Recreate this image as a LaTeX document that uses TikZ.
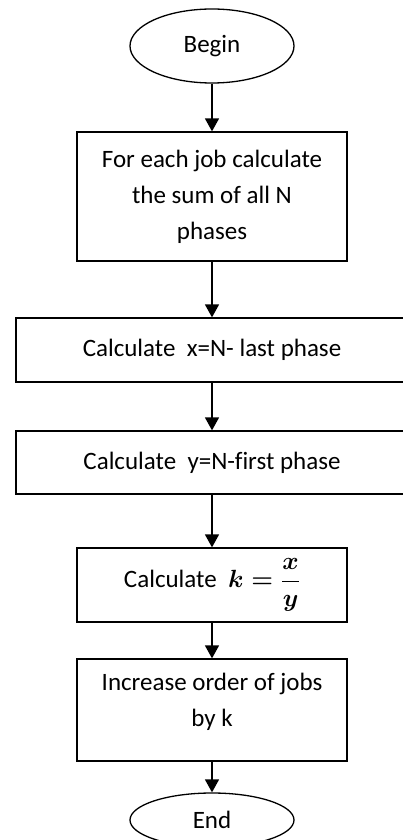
\documentclass[tikz,border=0pt]{standalone}
\usepackage{amsmath}
\usepackage{fontspec}
\setmainfont{Carlito}
\usetikzlibrary{positioning,arrows.meta,shapes.geometric}

\begin{document}
\begin{tikzpicture}[x=1pt, y=-1pt,
  font=\fontsize{25}{36}\selectfont,
  terminal/.style={draw, line width=1.3pt, ellipse, inner sep=0pt, minimum width=164pt},
  procbox/.style={draw, line width=1.3pt, rectangle, align=center, inner sep=0pt},
  flow/.style={line width=1.6pt, -{Triangle[length=13pt,width=14pt]}}]
\useasboundingbox (0,0) rectangle (402,840);
% start and end
\node[terminal, minimum height=74pt] (begin) at (212,46) {Begin};
\node[terminal, minimum height=54pt] (end) at (212,820) {End};
% steps
\node[procbox, minimum width=270pt, minimum height=129pt] (sum) at (212,196.5)
  {For each job calculate\\the sum of all N\\phases};
\node[procbox, minimum width=392pt, minimum height=64pt] (xcalc) at (212,350)
  {Calculate\ \ x=N- last phase};
\node[procbox, minimum width=392pt, minimum height=63pt] (ycalc) at (212,462.5)
  {Calculate\ \ y=N-f\kern0ptirst phase};
\node[procbox, minimum width=270pt, minimum height=74pt] (kcalc) at (212,585)
  {Calculate\ \ $\boldsymbol{k=\dfrac{x}{y}}$};
\node[procbox, minimum width=270pt, minimum height=102pt, text depth=20pt] (order) at (212,710)
  {Increase order of jobs\\by k};
% connectors
\draw[flow] (begin) -- (sum);
\draw[flow] (sum) -- (xcalc);
\draw[flow] (xcalc) -- (ycalc);
\draw[flow] (ycalc) -- (kcalc);
\draw[flow] (kcalc) -- (order);
\draw[flow] (order) -- (end);
\end{tikzpicture}
\end{document}
